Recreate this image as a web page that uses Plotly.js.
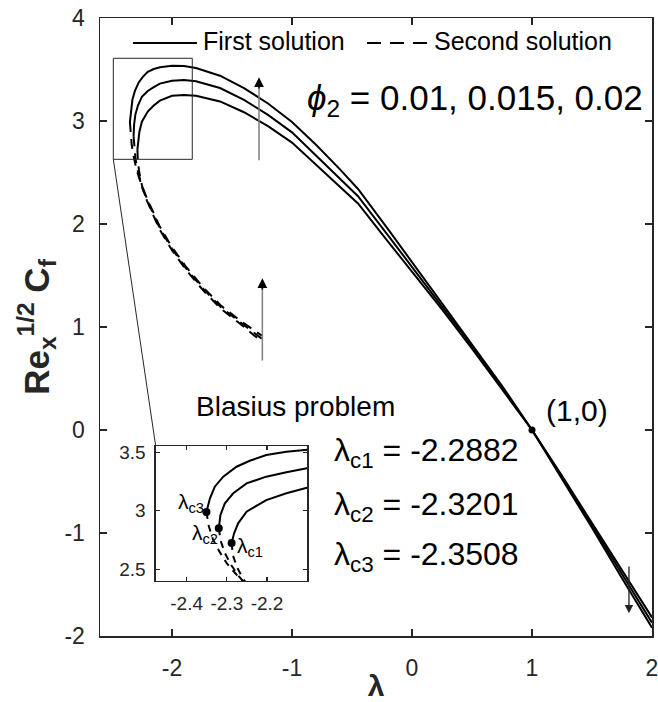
<!DOCTYPE html>
<html>
<head>
<meta charset="utf-8">
<script src="https://cdn.plot.ly/plotly-3.0.1.min.js"></script>
<style>html,body{margin:0;padding:0;background:#fff;}#chart{width:658px;height:702px;}</style>
</head>
<body>
<div id="chart"></div>
<script>
// ---- Data ----
const phi2Values = [0.01, 0.015, 0.02];
const lambdaCritical = [-2.2882, -2.3201, -2.3508];
const cfCritical = [2.725, 2.85, 2.99];

// First solution, phi2 = 0.01
const firstX_001 = [-2.2882, -2.282, -2.272, -2.251, -2.202, -2.152, -2.101, -2.0, -1.9, -1.8, -1.6, -1.4, -1.2, -1.0, -0.8, -0.6, -0.45, -0.2, 0.0, 0.25, 0.5, 0.75, 1.0, 1.25, 1.5, 1.75, 2.0];
const firstY_001 = [2.725, 2.808, 2.893, 2.993, 3.092, 3.150, 3.198, 3.245, 3.252, 3.245, 3.19, 3.085, 2.95, 2.79, 2.575, 2.36, 2.20, 1.83, 1.54, 1.17, 0.79, 0.40, 0.0, -0.445, -0.905, -1.36, -1.82];
// First solution, phi2 = 0.015
const firstX_0015 = [-2.3201, -2.316, -2.305, -2.284, -2.251, -2.202, -2.152, -2.101, -2.0, -1.9, -1.8, -1.6, -1.4, -1.2, -1.0, -0.8, -0.6, -0.45, -0.2, 0.0, 0.25, 0.5, 0.75, 1.0, 1.25, 1.5, 1.75, 2.0];
const firstY_0015 = [2.85, 2.964, 3.064, 3.150, 3.235, 3.292, 3.329, 3.363, 3.39, 3.398, 3.385, 3.32, 3.205, 3.06, 2.89, 2.665, 2.44, 2.27, 1.89, 1.585, 1.205, 0.815, 0.415, 0.0, -0.455, -0.925, -1.40, -1.87];
// First solution, phi2 = 0.02
const firstX_002 = [-2.3508, -2.342, -2.33, -2.309, -2.276, -2.243, -2.202, -2.152, -2.1, -2.0, -1.9, -1.8, -1.6, -1.4, -1.2, -1.0, -0.8, -0.6, -0.45, -0.2, 0.0, 0.25, 0.5, 0.75, 1.0, 1.25, 1.5, 1.75, 2.0];
const firstY_002 = [2.99, 3.107, 3.206, 3.292, 3.377, 3.428, 3.477, 3.505, 3.522, 3.537, 3.533, 3.515, 3.44, 3.32, 3.17, 2.99, 2.77, 2.53, 2.34, 1.95, 1.63, 1.24, 0.84, 0.43, 0.0, -0.47, -0.95, -1.44, -1.92];

// Second solution
const secondX_001 = [-2.2882, -2.285, -2.275, -2.26, -2.24, -2.21, -2.15, -2.1, -2.0, -1.88, -1.74, -1.59, -1.43, -1.25];
const secondY_001 = [2.725, 2.62, 2.52, 2.42, 2.33, 2.23, 2.07, 1.94, 1.745, 1.55, 1.355, 1.175, 1.03, 0.855];
const secondX_0015 = [-2.3201, -2.315, -2.305, -2.29, -2.27, -2.245, -2.21, -2.15, -2.1, -2.0, -1.88, -1.74, -1.59, -1.43, -1.25];
const secondY_0015 = [2.85, 2.74, 2.64, 2.54, 2.44, 2.34, 2.24, 2.085, 1.955, 1.76, 1.565, 1.37, 1.19, 1.045, 0.885];
const secondX_002 = [-2.3508, -2.345, -2.335, -2.32, -2.30, -2.275, -2.245, -2.21, -2.15, -2.1, -2.0, -1.88, -1.74, -1.59, -1.43, -1.25];
const secondY_002 = [2.99, 2.87, 2.76, 2.66, 2.55, 2.45, 2.35, 2.25, 2.10, 1.97, 1.775, 1.58, 1.385, 1.205, 1.06, 0.915];

const blasiusPoint = {x: [1], y: [0]};

const xTickVals = [-2, -1, 0, 1, 2];
const xTickText = ['-2', '-1', '0', '1', '2'];
const yTickVals = [-2, -1, 0, 1, 2, 3, 4];
const yTickText = ['-2', '-1', '0', '1', '2', '3', '4'];
const insetXTickVals = [-2.4, -2.3, -2.2];
const insetXTickText = ['-2.4', '-2.3', '-2.2'];
const insetYTickVals = [2.5, 3, 3.5];
const insetYTickText = ['2.5', '3', '3.5'];

// ---- Traces ----
const FONT = 'Liberation Sans, Arial, Helvetica, sans-serif';
const INK = '#262626';
const firstSets = [[firstX_001, firstY_001], [firstX_0015, firstY_0015], [firstX_002, firstY_002]];
const secondSets = [[secondX_001, secondY_001], [secondX_0015, secondY_0015], [secondX_002, secondY_002]];

const traces = [];
['', '2'].forEach(function (suf) {
  firstSets.forEach(function (s, i) {
    traces.push({x: s[0], y: s[1], xaxis: 'x' + suf, yaxis: 'y' + suf, type: 'scatter', mode: 'lines',
      name: 'First solution, φ2=' + phi2Values[i], showlegend: false,
      line: {color: '#000', width: 2}, cliponaxis: true});
  });
  secondSets.forEach(function (s, i) {
    traces.push({x: s[0], y: s[1], xaxis: 'x' + suf, yaxis: 'y' + suf, type: 'scatter', mode: 'lines',
      name: 'Second solution, φ2=' + phi2Values[i], showlegend: false,
      line: {color: '#000', width: 2, dash: suf ? '7px,6px' : '10px,7px'}, cliponaxis: true});
  });
});
traces.push({x: blasiusPoint.x, y: blasiusPoint.y, type: 'scatter', mode: 'markers', showlegend: false,
  marker: {color: '#000', size: 7}});
traces.push({x: lambdaCritical, y: cfCritical, xaxis: 'x2', yaxis: 'y2', type: 'scatter', mode: 'markers',
  showlegend: false, marker: {color: '#000', size: 8}});

// ---- Layout ----
const axisBase = {
  showline: true, linecolor: INK, linewidth: 1.5, mirror: 'ticks', ticks: 'inside',
  tickcolor: INK, ticklen: 7, tickwidth: 1.5, showgrid: false, zeroline: false,
  ticklabeloverflow: 'allow',
  tickfont: {family: FONT, size: 23, color: INK}
};

const layout = {
  width: 658, height: 702,
  margin: {l: 100, r: 6, t: 18, b: 66},
  paper_bgcolor: '#fff', plot_bgcolor: '#fff',
  showlegend: false,
  font: {family: FONT, color: '#000'},
  xaxis: Object.assign({}, axisBase, {
    range: [-2.6, 2], tickvals: xTickVals, ticktext: xTickText, domain: [0, 1], anchor: 'y',
    ticklabelstandoff: 11,
    title: {text: '<b>λ</b>', font: {family: FONT, size: 30, color: INK}, standoff: 12}
  }),
  yaxis: Object.assign({}, axisBase, {
    range: [-2, 4], tickvals: yTickVals, ticktext: yTickText, domain: [0, 1], anchor: 'x',
    ticklabelstandoff: 9,
    title: {text: '<b>Re<sub>x</sub><sup>1/2</sup> C<sub>f</sub></b>', font: {family: FONT, size: 35, color: INK}, standoff: 4}
  }),
  xaxis2: Object.assign({}, axisBase, {
    range: [-2.477, -2.1], tickvals: insetXTickVals, ticktext: insetXTickText,
    domain: [0.1009, 0.3755], anchor: 'y2', ticklen: 4, linewidth: 1.3, tickwidth: 1.2,
    tickfont: {family: FONT, size: 19, color: INK}, ticklabelstandoff: 5
  }),
  yaxis2: Object.assign({}, axisBase, {
    range: [2.4, 3.554], tickvals: insetYTickVals, ticktext: insetYTickText,
    domain: [0.0890, 0.3074], anchor: 'x2', ticklen: 4, linewidth: 1.3, tickwidth: 1.2,
    tickfont: {family: FONT, size: 19, color: INK}, ticklabelstandoff: 5
  }),
  shapes: [
    // zoom rectangle
    {type: 'rect', xref: 'x', yref: 'y', x0: -2.489, x1: -1.831, y0: 2.628, y1: 3.609,
      line: {color: INK, width: 1}},
    // connector from zoom rectangle to inset
    {type: 'line', xref: 'x', yref: 'y', x0: -2.489, y0: 2.628, x1: -2.136, y1: -0.155,
      line: {color: INK, width: 1}},
    // legend samples
    {type: 'line', xref: 'x', yref: 'y', x0: -2.325, x1: -1.792, y0: 3.757, y1: 3.757,
      line: {color: '#000', width: 2}},
    {type: 'line', xref: 'x', yref: 'y', x0: -0.375, x1: 0.15, y0: 3.757, y1: 3.757,
      line: {color: '#000', width: 2, dash: '14px,9px'}}
  ],
  annotations: [
    {xref: 'x', yref: 'y', x: -1.758, y: 3.775, xanchor: 'left', yanchor: 'middle', showarrow: false,
      text: 'First solution', font: {family: FONT, size: 25, color: '#000'}},
    {xref: 'x', yref: 'y', x: 0.167, y: 3.775, xanchor: 'left', yanchor: 'middle', showarrow: false,
      text: 'Second solution', font: {family: FONT, size: 25, color: '#000'}},
    {xref: 'x', yref: 'y', x: -0.892, y: 3.2, xanchor: 'left', yanchor: 'middle', showarrow: false,
      text: '<i>ϕ</i><sub>2</sub> = 0.01, 0.015, 0.02', font: {family: FONT, size: 35, color: '#000'}},
    {xref: 'x', yref: 'y', x: -0.967, y: 0.233, xanchor: 'center', yanchor: 'middle', showarrow: false,
      text: 'Blasius problem', font: {family: FONT, size: 28, color: '#000'}},
    {xref: 'x', yref: 'y', x: 1.1, y: 0.194, xanchor: 'left', yanchor: 'middle', showarrow: false,
      text: '(1,0)', font: {family: FONT, size: 30, color: '#000'}},
    {xref: 'x', yref: 'y', x: -0.667, y: -0.22, xanchor: 'left', yanchor: 'middle', showarrow: false,
      text: 'λ<sub>c1</sub> = -2.2882', font: {family: FONT, size: 32, color: '#000'}},
    {xref: 'x', yref: 'y', x: -0.667, y: -0.74, xanchor: 'left', yanchor: 'middle', showarrow: false,
      text: 'λ<sub>c2</sub> = -2.3201', font: {family: FONT, size: 32, color: '#000'}},
    {xref: 'x', yref: 'y', x: -0.667, y: -1.23, xanchor: 'left', yanchor: 'middle', showarrow: false,
      text: 'λ<sub>c3</sub> = -2.3508', font: {family: FONT, size: 32, color: '#000'}},
    // inset labels
    {xref: 'x2', yref: 'y2', x: -2.351, y: 3.065, xanchor: 'right', yanchor: 'middle', showarrow: false,
      text: 'λ<sub>c3</sub>', font: {family: FONT, size: 21, color: '#000'}},
    {xref: 'x2', yref: 'y2', x: -2.318, y: 2.8, xanchor: 'right', yanchor: 'middle', showarrow: false,
      text: 'λ<sub>c2</sub>', font: {family: FONT, size: 21, color: '#000'}},
    {xref: 'x2', yref: 'y2', x: -2.279, y: 2.69, xanchor: 'left', yanchor: 'middle', showarrow: false,
      text: 'λ<sub>c1</sub>', font: {family: FONT, size: 21, color: '#000'}},
    // arrows: gray shafts with black heads
    {xref: 'x', yref: 'y', axref: 'x', ayref: 'y', x: -1.275, y: 3.35, ax: -1.275, ay: 2.605, text: '',
      showarrow: true, arrowhead: 0, arrowwidth: 1.5, arrowcolor: '#808080', standoff: 0, startstandoff: 0},
    {xref: 'x', yref: 'y', axref: 'x', ayref: 'y', x: -1.275, y: 3.424, ax: -1.275, ay: 3.3, text: '',
      showarrow: true, arrowhead: 2, arrowsize: 1.3, arrowwidth: 1.5, arrowcolor: '#000', standoff: 0},
    {xref: 'x', yref: 'y', axref: 'x', ayref: 'y', x: -1.247, y: 1.4, ax: -1.247, ay: 0.66, text: '',
      showarrow: true, arrowhead: 0, arrowwidth: 1.5, arrowcolor: '#808080', standoff: 0, startstandoff: 0},
    {xref: 'x', yref: 'y', axref: 'x', ayref: 'y', x: -1.247, y: 1.473, ax: -1.247, ay: 1.35, text: '',
      showarrow: true, arrowhead: 2, arrowsize: 1.3, arrowwidth: 1.5, arrowcolor: '#000', standoff: 0},
    {xref: 'x', yref: 'y', axref: 'x', ayref: 'y', x: 1.808, y: -1.78, ax: 1.808, ay: -1.311, text: '',
      showarrow: true, arrowhead: 2, arrowsize: 1.3, arrowwidth: 1.3, arrowcolor: '#222', standoff: 0}
  ]
};

Plotly.newPlot('chart', traces, layout, {displayModeBar: false, staticPlot: true});
</script>
</body>
</html>
